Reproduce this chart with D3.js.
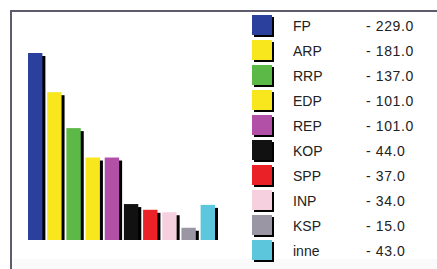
<!DOCTYPE html>
<html>
<head>
<meta charset="utf-8">
<script src="https://cdn.jsdelivr.net/npm/d3@7"></script>
<style>
  body { margin: 0; background: #fff; }
  text { font-family: "Liberation Sans", Arial, sans-serif; }
</style>
</head>
<body>
<div id="chart"></div>
<script>
var parties = ["FP", "ARP", "RRP", "EDP", "REP", "KOP", "SPP", "INP", "KSP", "inne"];
var seats = [229, 181, 137, 101, 101, 44, 37, 34, 15, 43];
var colors = ["#2b3f9c", "#f7e71c", "#5cb847", "#f7e71c", "#b24fa6", "#111111", "#ea2127", "#f6d0df", "#9b96a3", "#5cc7dc"];

var width = 437,
    height = 269;

var svg = d3.select("#chart").append("svg")
    .attr("width", width)
    .attr("height", height);

// frame
svg.append("rect")
    .attr("x", 12).attr("y", 259)
    .attr("width", width - 12).attr("height", 10)
    .attr("fill", "#fafafa");

svg.append("path")
    .attr("d", "M11," + height + "V11H" + width)
    .attr("fill", "none")
    .attr("stroke", "#5d5b6c")
    .attr("stroke-width", 2);

var x = d3.scaleBand()
    .domain(parties)
    .range([28, 215])
    .paddingInner(0.25)
    .paddingOuter(0);

var y = d3.scaleLinear()
    .domain([0, 229])
    .range([240, 53]);

var data = parties.map(function(p, i) { return {name: p, value: seats[i], color: colors[i]}; });

var bars = svg.append("g").selectAll("g")
    .data(data)
    .enter().append("g");

// shadow
bars.append("rect")
    .attr("x", function(d) { return x(d.name) + 3; })
    .attr("y", function(d) { return y(d.value) + 3; })
    .attr("width", x.bandwidth())
    .attr("height", function(d) { return y(0) - y(d.value) - 3; })
    .attr("fill", "#000");

bars.append("rect")
    .attr("x", function(d) { return x(d.name); })
    .attr("y", function(d) { return y(d.value); })
    .attr("width", x.bandwidth())
    .attr("height", function(d) { return y(0) - y(d.value); })
    .attr("fill", function(d) { return d.color; });

// legend
var legend = svg.append("g").selectAll("g")
    .data(data)
    .enter().append("g")
    .attr("transform", function(d, i) { return "translate(0," + (15 + i * 25) + ")"; });

legend.append("rect")
    .attr("x", 254).attr("y", 2)
    .attr("width", 20).attr("height", 20)
    .attr("fill", "#000");

legend.append("rect")
    .attr("x", 252).attr("y", 0)
    .attr("width", 20).attr("height", 20)
    .attr("fill", function(d) { return d.color; });

legend.append("text")
    .attr("x", 293).attr("y", 15.5)
    .attr("font-size", 14)
    .attr("fill", "#222")
    .text(function(d) { return d.name; });

legend.append("text")
    .attr("x", 366).attr("y", 15.5)
    .attr("font-size", 14)
    .attr("letter-spacing", 0.6)
    .attr("fill", "#222")
    .text(function(d) { return "- " + d.value.toFixed(1); });
</script>
</body>
</html>
